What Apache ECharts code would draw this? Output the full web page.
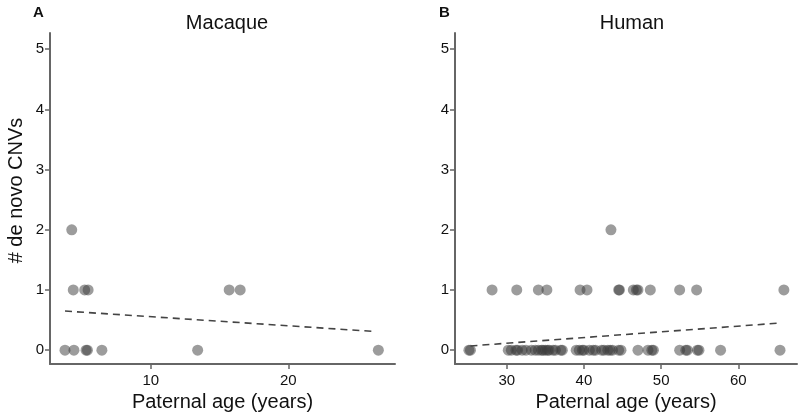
<!DOCTYPE html>
<html><head><meta charset="utf-8">
<script src="https://cdn.jsdelivr.net/npm/echarts@6/dist/echarts.min.js"></script>
<style>html,body{margin:0;padding:0;background:#fff}#c{width:800px;height:412px}</style>
</head><body><div id="c"></div>
<script>
// Macaque data
const macaqueAge = [3.77, 4.26, 4.37, 4.42, 5.2, 5.3, 5.4, 5.45, 6.45, 13.41, 15.7, 16.5, 26.54];
const macaqueCNV = [0, 2, 1, 0, 1, 0, 0, 1, 0, 0, 1, 1, 0];
const macaqueTrendAge = [3.77, 26.3];
const macaqueTrendCNV = [0.65, 0.31];
// Human data
const humanAge = [28.1, 31.3, 34.1, 35.2, 39.5, 40.4, 44.5, 44.6, 46.4, 46.8, 47.0, 48.6, 52.4, 54.6, 65.9,
  43.5,
  25.1, 25.3, 30.2, 30.6, 31.2, 31.4, 32.0, 32.5, 33.2, 33.7, 34.1, 34.5, 34.7, 35.0, 35.3, 35.5, 36.0, 36.3, 37.0, 37.2,
  39.0, 39.4, 39.8, 40.0, 40.7, 41.2, 41.5, 42.3, 42.6, 43.1, 43.4, 43.7, 44.5, 44.8, 47.0, 48.3, 48.8, 49.0,
  52.4, 53.2, 53.4, 54.7, 54.9, 57.7, 65.4];
const humanCNV = [1, 1, 1, 1, 1, 1, 1, 1, 1, 1, 1, 1, 1, 1, 1,
  2,
  0, 0, 0, 0, 0, 0, 0, 0, 0, 0, 0, 0, 0, 0, 0, 0, 0, 0, 0, 0,
  0, 0, 0, 0, 0, 0, 0, 0, 0, 0, 0, 0, 0, 0, 0, 0, 0, 0,
  0, 0, 0, 0, 0, 0, 0];
const humanTrendAge = [25.3, 65.3];
const humanTrendCNV = [0.07, 0.45];
// Ticks
const yTicks = [0, 1, 2, 3, 4, 5];
const macaqueXTicks = [10, 20];
const humanXTicks = [30, 40, 50, 60];
const panelTitles = ['Macaque', 'Human'];
const panelLetters = ['A', 'B'];

const FONT = 'Liberation Sans, Arial, sans-serif';
const axisColor = '#666';
const zip = (a, b) => a.map((v, i) => [v, b[i]]);

function xAxis(gi, min, max, ticks) {
  return {
    type: 'value', gridIndex: gi, min: min, max: max,
    name: 'Paternal age (years)', nameLocation: 'middle', nameGap: 27,
    nameTextStyle: { fontFamily: FONT, fontSize: 20, color: '#111' },
    axisLine: { show: true, onZero: false, lineStyle: { color: axisColor, width: 2 } },
    axisTick: { show: true, length: 5, customValues: ticks, lineStyle: { color: axisColor, width: 1.5 } },
    axisLabel: { customValues: ticks, fontFamily: FONT, fontSize: 15, color: '#111', margin: 9 },
    splitLine: { show: false }
  };
}
function yAxis(gi, withName) {
  return {
    type: 'value', gridIndex: gi, min: -0.23, max: 5.27,
    name: withName ? '# de novo CNVs' : '', nameLocation: 'middle', nameGap: 24,
    nameTextStyle: { fontFamily: FONT, fontSize: 20, color: '#111', padding: [0, 0, 0, 16] },
    axisLine: { show: true, onZero: false, lineStyle: { color: axisColor, width: 2 } },
    axisTick: { show: true, length: 5, customValues: yTicks, lineStyle: { color: axisColor, width: 1.5 } },
    axisLabel: { customValues: yTicks, fontFamily: FONT, fontSize: 15, color: '#111', margin: 6 },
    splitLine: { show: false }
  };
}
const pointStyle = { color: '#3a3a3a', opacity: 0.5 };
const trendStyle = { color: '#444', width: 1.6, type: [7, 5] };

const chart = echarts.init(document.getElementById('c'), null, { renderer: 'canvas' });
chart.setOption({
  animation: false,
  title: [
    { text: panelTitles[0], left: 222, top: 8, textAlign: 'center', textStyle: { fontFamily: FONT, fontSize: 20, fontWeight: 'normal', color: '#111' } },
    { text: panelTitles[1], left: 627, top: 8, textAlign: 'center', textStyle: { fontFamily: FONT, fontSize: 20, fontWeight: 'normal', color: '#111' } },
    { text: panelLetters[0], left: 28, top: 0, textStyle: { fontFamily: FONT, fontSize: 15, fontWeight: 'bold', color: '#111' } },
    { text: panelLetters[1], left: 434, top: 0, textStyle: { fontFamily: FONT, fontSize: 15, fontWeight: 'bold', color: '#111' } }
  ],
  grid: [
    { left: 50, top: 33, width: 345, height: 331, containLabel: false, outerBoundsMode: 'none' },
    { left: 455, top: 33, width: 342, height: 331, containLabel: false, outerBoundsMode: 'none' }
  ],
  xAxis: [xAxis(0, 2.68, 27.75, macaqueXTicks), xAxis(1, 23.3, 67.6, humanXTicks)],
  yAxis: [yAxis(0, true), yAxis(1, false)],
  series: [
    { type: 'scatter', xAxisIndex: 0, yAxisIndex: 0, symbolSize: 11, itemStyle: pointStyle, data: zip(macaqueAge, macaqueCNV) },
    { type: 'line', xAxisIndex: 0, yAxisIndex: 0, symbol: 'none', lineStyle: trendStyle, data: zip(macaqueTrendAge, macaqueTrendCNV) },
    { type: 'scatter', xAxisIndex: 1, yAxisIndex: 1, symbolSize: 11, itemStyle: pointStyle, data: zip(humanAge, humanCNV) },
    { type: 'line', xAxisIndex: 1, yAxisIndex: 1, symbol: 'none', lineStyle: trendStyle, data: zip(humanTrendAge, humanTrendCNV) }
  ]
});
</script></body></html>
